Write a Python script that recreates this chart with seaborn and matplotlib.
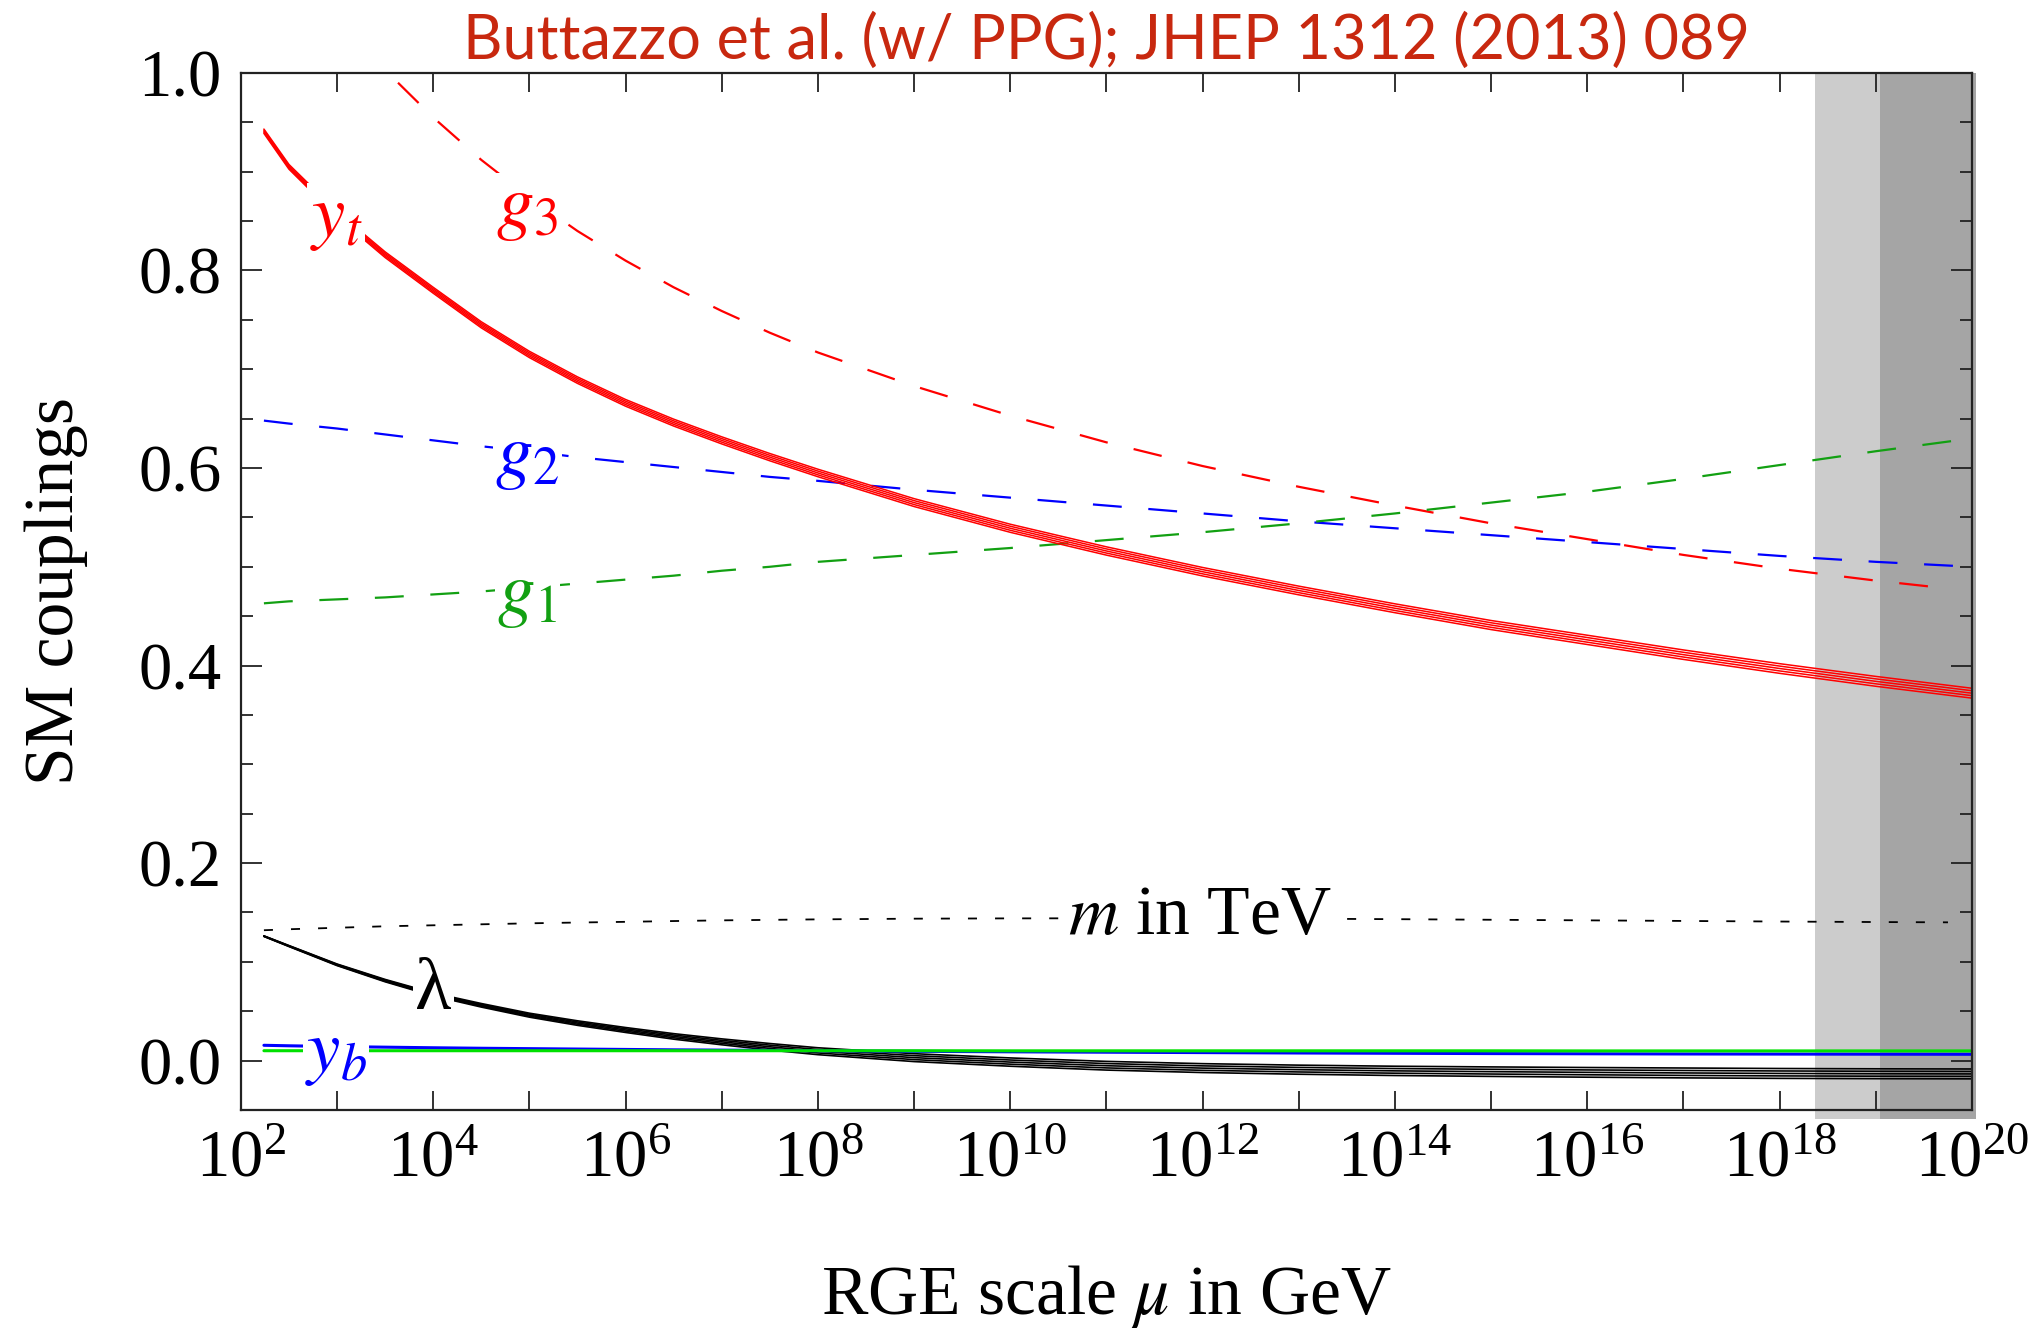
import numpy as np
import pandas as pd
import matplotlib
matplotlib.use("Agg")
import matplotlib.pyplot as plt
from matplotlib.ticker import FixedLocator, LogFormatterMathtext, MultipleLocator, NullFormatter
import seaborn as sns

# ---------------------------------------------------
# THEME
# ---------------------------------------------------
sns.set_style("ticks")
plt.rcParams["font.family"] = ["Liberation Serif", "DejaVu Serif"]
plt.rcParams["mathtext.fontset"] = "stix"
plt.rcParams["text.color"] = "black"
plt.rcParams["axes.labelcolor"] = "black"

RED = "#FF0000"
BLUE = "#0000FF"
GREEN_DASH = "#12A012"
GREEN_LINE = "#00E000"
TITLE_RED = "#C8280F"
LIGHT_GRAY = "#CCCCCC"
DARK_GRAY = "#A5A5A5"

# ---------------------------------------------------
# DATA, x = log10(mu / GeV)
# ---------------------------------------------------
log_mu = [2.24, 2.5, 3, 3.5, 4, 4.5, 5, 5.5, 6, 6.5, 7, 7.5, 8, 9, 10, 11, 12, 13, 14,
          15, 16, 17, 18, 19, 20]
log_mu_short = [2.24, 2.5, 3, 3.5, 4, 4.5, 5, 5.5, 6, 6.5, 7, 7.5, 8, 9, 10, 11, 12, 13,
                14, 15, 16, 17, 18, 19, 19.75]

yt = [0.941, 0.905, 0.857, 0.816, 0.780, 0.745, 0.715, 0.689, 0.666, 0.646, 0.628,
      0.611, 0.595, 0.565, 0.539, 0.516, 0.495, 0.476, 0.458, 0.441, 0.426, 0.411,
      0.397, 0.384, 0.372]
yt_err = [0.0022, 0.0024, 0.0027, 0.0029, 0.003, 0.0031, 0.0032, 0.0033, 0.0034, 0.0035,
          0.0036, 0.0037, 0.0038, 0.004, 0.0041, 0.0042, 0.0043, 0.0044, 0.0045, 0.0046,
          0.0047, 0.0048, 0.0049, 0.005, 0.005]

g3 = [1.167, 1.120, 1.060, 1.003, 0.955, 0.912, 0.874, 0.840, 0.810, 0.783, 0.759,
      0.737, 0.717, 0.683, 0.653, 0.626, 0.602, 0.581, 0.562, 0.544, 0.528, 0.512,
      0.498, 0.486, 0.478]
g2 = [0.648, 0.645, 0.640, 0.634, 0.628, 0.622, 0.617, 0.611, 0.606, 0.601, 0.596,
      0.591, 0.587, 0.578, 0.570, 0.562, 0.554, 0.546, 0.539, 0.532, 0.525, 0.518,
      0.511, 0.505, 0.500]
g1 = [0.463, 0.465, 0.467, 0.469, 0.472, 0.475, 0.479, 0.483, 0.487, 0.491, 0.496,
      0.500, 0.505, 0.512, 0.519, 0.527, 0.535, 0.544, 0.554, 0.565, 0.576, 0.589,
      0.603, 0.617, 0.630]

lam = [0.126, 0.116, 0.097, 0.081, 0.067, 0.056, 0.046, 0.038, 0.031, 0.0245, 0.019,
       0.014, 0.0095, 0.003, -0.0015, -0.0052, -0.0076, -0.0092, -0.0104, -0.0112,
       -0.0119, -0.0125, -0.013, -0.0133, -0.0135]
lam_err = [0.0003, 0.0005, 0.0008, 0.0012, 0.0015, 0.0018, 0.002, 0.0023, 0.0025, 0.0028,
           0.003, 0.0033, 0.0035, 0.004, 0.0042, 0.0044, 0.0045, 0.0046, 0.0047, 0.0048,
           0.0049, 0.005, 0.005, 0.005, 0.005]

yb = [0.0155, 0.0150, 0.0142, 0.0136, 0.0130, 0.0125, 0.0121, 0.0117, 0.0113, 0.0109,
      0.0106, 0.0103, 0.0100, 0.0094, 0.0089, 0.0085, 0.0081, 0.0077, 0.0074, 0.0071,
      0.0069, 0.0067, 0.0066, 0.0065, 0.0064]
ytau = [0.0100, 0.0100, 0.0100, 0.0100, 0.0100, 0.0100, 0.0100, 0.0100, 0.0100, 0.0100,
        0.0100, 0.0100, 0.0100, 0.0100, 0.0099, 0.0099, 0.0099, 0.0099, 0.0099, 0.0099,
        0.0098, 0.0098, 0.0098, 0.0098, 0.0098]

m_tev = [0.132, 0.133, 0.1345, 0.136, 0.137, 0.138, 0.139, 0.1398, 0.1405, 0.1413, 0.142,
         0.1425, 0.143, 0.1437, 0.144, 0.1441, 0.144, 0.1437, 0.1432, 0.1426, 0.142,
         0.1414, 0.1408, 0.1403, 0.140]

planck_reduced = 18.37
planck = 19.04

df = pd.DataFrame({"mu": 10.0 ** np.array(log_mu), "yt": yt, "yt_err": yt_err,
                   "g2": g2, "g1": g1, "lam": lam, "lam_err": lam_err,
                   "yb": yb, "ytau": ytau})
df_short = pd.DataFrame({"mu": 10.0 ** np.array(log_mu_short), "g3": g3, "m": m_tev})

# ---------------------------------------------------
# FIGURE
# ---------------------------------------------------
fig = plt.figure(figsize=(20.41, 13.29), dpi=100)
ax = fig.add_axes([0.118, 0.1648, 0.8482, 0.7803])
ax.set_xscale("log")
ax.set_xlim(1e2, 1e20)
ax.set_ylim(-0.05, 1.0)

# Planck-scale shading
ax.axvspan(10 ** planck_reduced, 10 ** planck, ymin=-0.009, ymax=1.0,
           color=LIGHT_GRAY, lw=0, zorder=0, clip_on=False)
ax.axvspan(10 ** planck, 10 ** 20.04, ymin=-0.009, ymax=1.0,
           color=DARK_GRAY, lw=0, zorder=0, clip_on=False)

long_dash = (0, (13, 12))

sns.lineplot(data=df_short, x="mu", y="g3", ax=ax, color=RED, lw=1.6,
             linestyle=long_dash, zorder=2)
sns.lineplot(data=df, x="mu", y="g2", ax=ax, color=BLUE, lw=1.6,
             linestyle=long_dash, zorder=2)
sns.lineplot(data=df, x="mu", y="g1", ax=ax, color=GREEN_DASH, lw=1.6,
             linestyle=long_dash, zorder=2)
sns.lineplot(data=df_short, x="mu", y="m", ax=ax, color="black", lw=1.3,
             linestyle=(0, (5, 10)), zorder=2)

# top Yukawa band (striped)
for f in [-1, -0.5, 0, 0.5, 1]:
    ax.plot(df["mu"], df["yt"] + f * df["yt_err"], color=RED, lw=1.1, zorder=3)

# Higgs quartic band
for f in [-1, -0.5, 0, 0.5, 1]:
    ax.plot(df["mu"], df["lam"] + f * df["lam_err"], color="black", lw=1.2, zorder=3)

sns.lineplot(data=df, x="mu", y="yb", ax=ax, color=BLUE, lw=2.2, zorder=3)
sns.lineplot(data=df, x="mu", y="ytau", ax=ax, color=GREEN_LINE, lw=2.2, zorder=3)

# curve labels
box = dict(facecolor="white", edgecolor="none", pad=1.5)
lab_fs = 54
ax.text(10 ** 2.99, 0.852, r"$y_t$", color=RED, fontsize=lab_fs, ha="center",
        va="center", bbox=box, zorder=5)
ax.text(10 ** 4.98, 0.862, r"$g_3$", color=RED, fontsize=lab_fs, ha="center",
        va="center", bbox=box, zorder=5)
ax.text(10 ** 4.98, 0.610, r"$g_2$", color=BLUE, fontsize=lab_fs, ha="center",
        va="center", bbox=box, zorder=5)
ax.text(10 ** 4.98, 0.470, r"$g_1$", color=GREEN_DASH, fontsize=lab_fs, ha="center",
        va="center", bbox=box, zorder=5)
ax.text(10 ** 4.0, 0.070, "λ", color="black", fontsize=lab_fs, ha="center",
        va="center", bbox=box, zorder=5)
ax.text(10 ** 2.99, 0.006, r"$y_b$", color=BLUE, fontsize=lab_fs, ha="center",
        va="center", bbox=box, zorder=5)
ax.text(10 ** 11.97, 0.145, r"$m$ in TeV", color="black", fontsize=50, ha="center",
        va="center", bbox=dict(facecolor="white", edgecolor="none", pad=6), zorder=5)

# ---------------------------------------------------
# AXES STYLE
# ---------------------------------------------------
ax.xaxis.set_major_locator(FixedLocator(10.0 ** np.arange(2, 21, 2)))
ax.xaxis.set_minor_locator(FixedLocator(10.0 ** np.arange(3, 20, 2)))
ax.xaxis.set_major_formatter(LogFormatterMathtext())
ax.xaxis.set_minor_formatter(NullFormatter())
ax.yaxis.set_major_locator(MultipleLocator(0.2))
ax.yaxis.set_minor_locator(MultipleLocator(0.05))
ax.yaxis.set_major_formatter(plt.FuncFormatter(lambda v, p: f"{v:.1f}"))

ax.tick_params(which="both", direction="in", top=True, right=True, width=1.3,
               colors="#222222", labelcolor="black")
ax.tick_params(axis="x", which="both", length=14)
ax.tick_params(axis="x", which="major", labelsize=48, pad=14)
ax.tick_params(axis="y", which="major", length=15, labelsize=48, pad=14)
ax.tick_params(axis="y", which="minor", length=8.5)

for side in ["left", "right", "top", "bottom"]:
    ax.spines[side].set_linewidth(1.6)
    ax.spines[side].set_color("#222222")
    ax.spines[side].set_zorder(6)

ax.set_xlabel(r"RGE scale $\mu$ in GeV", fontsize=50, labelpad=52)
ax.set_ylabel("SM couplings", fontsize=50, labelpad=36)
ax.set_title("Buttazzo et al. (w/ PPG); JHEP 1312 (2013) 089", color=TITLE_RED,
             fontsize=44, family=["Lato", "DejaVu Sans"], pad=10)

fig.savefig("out.png", dpi=100)
plt.close(fig)
